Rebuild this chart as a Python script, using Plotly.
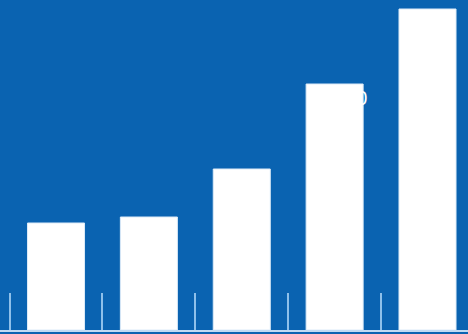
import plotly.graph_objects as go

categories = ["A", "B", "C", "D", "E"]
values = [107, 113, 161, 246, 321]
label_text = "250"

BG = "#0A63B1"
BARGAP = 0.386

fig = go.Figure()
fig.add_trace(go.Bar(
    x=categories, y=values,
    marker=dict(color="white", line=dict(color="#DCEBF8", width=1)),
    hoverinfo="skip",
))

fig.add_annotation(
    text=label_text, xref="x", yref="y", x=3 + (1 - BARGAP) / 2 + 0.06, y=232,
    xanchor="right", yanchor="middle", showarrow=False,
    font=dict(family="Liberation Sans, Arial", size=20, color="white"),
)

fig.update_layout(
    width=468, height=334,
    margin=dict(l=0, r=0, t=0, b=4, pad=0),
    paper_bgcolor=BG, plot_bgcolor=BG,
    bargap=BARGAP,
    showlegend=False,
    xaxis=dict(
        type="category", range=[-0.603, 4.436],
        showgrid=False, zeroline=False, showticklabels=False,
        showline=True, linecolor="#BFDBF3", linewidth=2,
        ticks="inside", tickson="boundaries", ticklen=37,
        tickcolor="#8EC0EA", tickwidth=2,
    ),
    yaxis=dict(
        range=[0, 330], showgrid=False, zeroline=False,
        showticklabels=False, showline=False,
    ),
)

fig.write_html("out.html")
